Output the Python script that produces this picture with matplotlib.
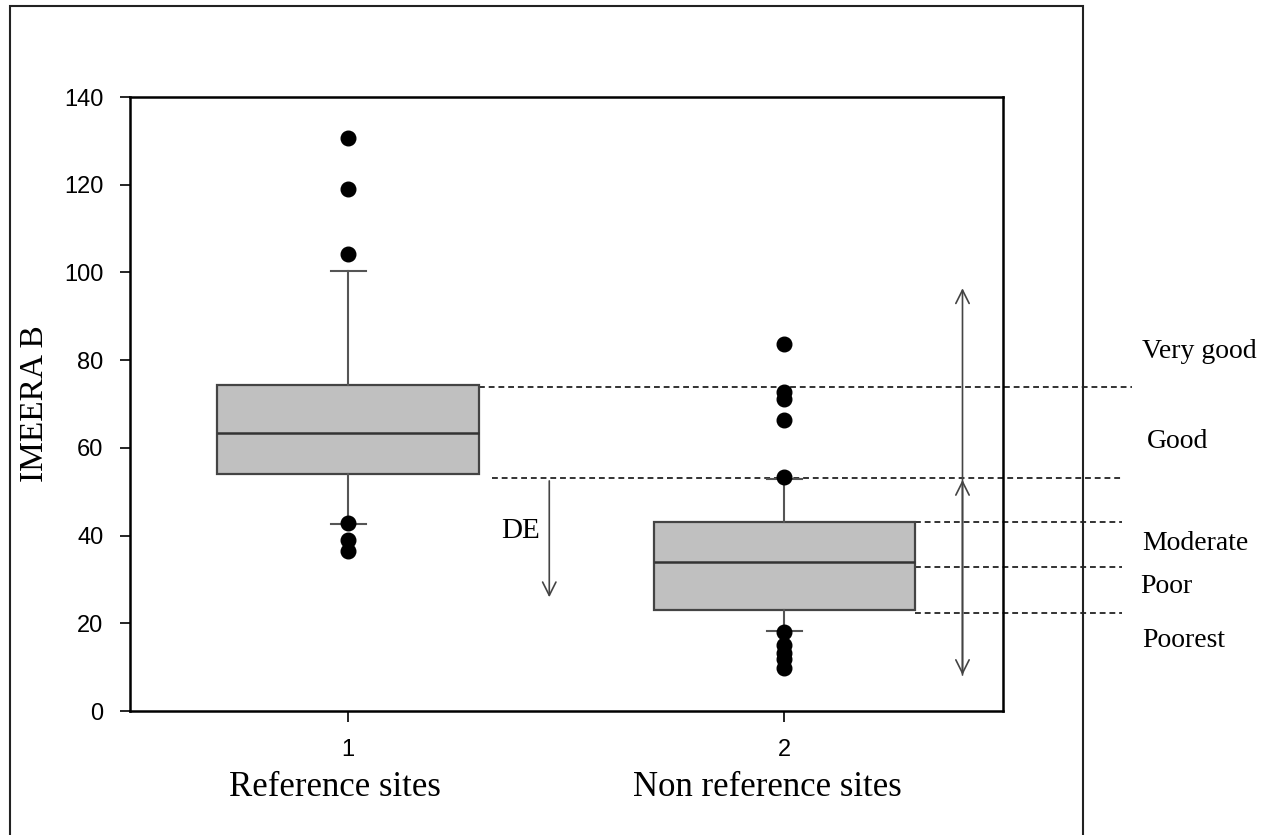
import matplotlib.pyplot as plt
from matplotlib.patches import Rectangle

# box statistics
groups = ["Reference sites", "Non reference sites"]
q1 = [54.0, 23.0]
med = [63.4, 33.9]
q3 = [74.3, 43.0]
whislo = [42.6, 18.2]
whishi = [100.3, 52.8]
fliers = [
    [130.6, 119.0, 104.2, 42.8, 39.0, 36.5],
    [83.6, 72.8, 71.1, 66.3, 53.4, 18.1, 15.0, 13.2, 11.8, 9.8],
]

# class limits (dashed lines) and labels
limits = [73.9, 53.1, 43.1, 32.9, 22.4]
limit_start = [1.30, 1.33, 2.30, 2.30, 2.30]
classes = ["Very good", "Good", "Moderate", "Poor", "Poorest"]
class_y = [82.0, 61.5, 38.3, 28.3, 16.0]
class_x = [2.82, 2.83, 2.82, 2.815, 2.82]
de_from, de_to = 53.1, 25.3
range_lo, range_mid, range_hi = 8.2, 52.7, 96.4

plt.rcParams["font.family"] = ["Liberation Sans", "DejaVu Sans"]
serif = ["Liberation Serif", "DejaVu Serif"]

fig = plt.figure(figsize=(12.74, 8.35), dpi=100)
ax = fig.add_axes([0.102, 0.1485, 0.685, 0.7353])

stats = []
for i in range(2):
    stats.append(dict(q1=q1[i], med=med[i], q3=q3[i], whislo=whislo[i],
                      whishi=whishi[i], fliers=fliers[i]))

ax.bxp(stats, positions=[1, 2], widths=0.6, patch_artist=True,
       boxprops=dict(facecolor="#c0c0c0", edgecolor="#444444", linewidth=1.6),
       medianprops=dict(color="#333333", linewidth=1.8),
       whiskerprops=dict(color="#555555", linewidth=1.5),
       capprops=dict(color="#555555", linewidth=1.5),
       flierprops=dict(marker="o", markerfacecolor="black",
                       markeredgecolor="black", markersize=10.5),
       capwidths=0.08)

ax.set_xlim(0.5, 2.5)
ax.set_ylim(0, 140)
ax.set_yticks(range(0, 141, 20))
ax.set_xticks([1, 2])
ax.set_xticklabels(["1", "2"])
ax.tick_params(axis="both", direction="out", labelsize=17, width=1.2)
ax.tick_params(axis="x", length=8, pad=12)
ax.tick_params(axis="y", length=7, pad=12)
for s in ax.spines.values():
    s.set_linewidth(1.8)

ax.set_ylabel("IMEERA B", family=serif, fontsize=24, labelpad=10)

label_x = [0.97, 1.96]
for i, g in enumerate(groups):
    ax.text(label_x[i], -17.5, g, family=serif, fontsize=25, ha="center",
            va="center", clip_on=False)

# dashed class limits
for y, x0 in zip(limits, limit_start):
    x1 = 2.796 if y == limits[0] else 2.773
    ax.plot([x0, x1], [y, y], ls=(0, (3, 2)), color="#333333", lw=1.4,
            clip_on=False, zorder=1)

for name, x, y in zip(classes, class_x, class_y):
    ax.text(x, y, name, family=serif, fontsize=20, ha="left",
            va="center", clip_on=False)

# DE arrow
ax.annotate("", xy=(1.461, de_to), xytext=(1.461, de_from),
            arrowprops=dict(arrowstyle="->", color="#444444", lw=1.2,
                            mutation_scale=24))
ax.text(1.395, 41, "DE", family=serif, fontsize=21, ha="center", va="center")

# range arrows
ax.annotate("", xy=(2.408, range_hi), xytext=(2.408, range_lo),
            arrowprops=dict(arrowstyle="<->", color="#444444", lw=1.2,
                            mutation_scale=24, shrinkA=0, shrinkB=0))
ax.annotate("", xy=(2.408, range_mid), xytext=(2.408, range_lo),
            arrowprops=dict(arrowstyle="->", color="#444444", lw=1.2,
                            mutation_scale=24, shrinkA=0, shrinkB=0))

# outer frame
fig.patches.append(Rectangle((10 / 1274, -0.01), 1073 / 1274, 1.01 - 6 / 835,
                             transform=fig.transFigure, fill=False,
                             edgecolor="#222222", linewidth=1.5))

fig.savefig("out.png", dpi=100)
